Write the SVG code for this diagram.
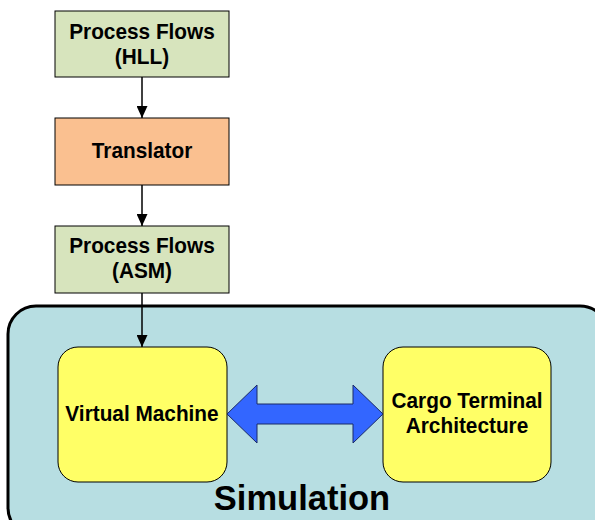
<svg xmlns="http://www.w3.org/2000/svg" width="595" height="520" viewBox="0 0 595 520">
  <style>
    .lbl { font-family: "Liberation Sans", Arial, sans-serif; font-weight: bold; font-size: 20.8px; fill: #000; text-anchor: middle; }
    .box { stroke: #000; stroke-width: 1; }
    .flow { fill: #D7E4BD; }
    .xlate { fill: #FAC090; }
    .inner { fill: #FFFF66; stroke: #000; stroke-width: 1; }
    .wire { stroke: #000; stroke-width: 1.5; fill: none; }
  </style>
  <defs>
    <marker id="head" viewBox="0 0 12 11" refX="12" refY="5.5" markerWidth="12" markerHeight="11" markerUnits="userSpaceOnUse" orient="auto">
      <path d="M0,0 L12,5.5 L0,11 Z" fill="#000"/>
    </marker>
  </defs>

  <!-- simulation container -->
  <g id="simulation">
    <rect x="8" y="306" width="600" height="230" rx="28" ry="28" fill="#B7DEE2" stroke="#000" stroke-width="3"/>
    <text x="302" y="510" font-family="'Liberation Sans', Arial, sans-serif" font-weight="bold" font-size="34.5" text-anchor="middle">Simulation</text>
  </g>

  <g id="hll">
    <rect class="box flow" x="55" y="11" width="174" height="66"/>
    <text class="lbl" transform="translate(142,39) scale(1,1.06)">Process Flows</text>
    <text class="lbl" transform="translate(142,64) scale(1,1.06)">(HLL)</text>
  </g>

  <g id="translator">
    <rect class="box xlate" x="55" y="118" width="174" height="67"/>
    <text class="lbl" transform="translate(142,158) scale(1,1.06)">Translator</text>
  </g>

  <g id="asm">
    <rect class="box flow" x="55" y="226" width="174" height="67"/>
    <text class="lbl" transform="translate(142,253) scale(1,1.06)">Process Flows</text>
    <text class="lbl" transform="translate(142,278) scale(1,1.06)">(ASM)</text>
  </g>

  <g id="vm">
    <rect class="inner" x="58" y="347" width="169" height="135" rx="20" ry="20"/>
    <text class="lbl" transform="translate(142,421) scale(1,1.06)">Virtual Machine</text>
  </g>

  <g id="cargo">
    <rect class="inner" x="383" y="347" width="168" height="135" rx="20" ry="20"/>
    <text class="lbl" transform="translate(467,408) scale(1,1.06)">Cargo Terminal</text>
    <text class="lbl" transform="translate(467,433) scale(1,1.06)">Architecture</text>
  </g>

  <g id="connectors">
    <line class="wire" x1="142" y1="77" x2="142" y2="118" marker-end="url(#head)"/>
    <line class="wire" x1="142" y1="185" x2="142" y2="226" marker-end="url(#head)"/>
    <line class="wire" x1="142" y1="293" x2="142" y2="347" marker-end="url(#head)"/>
    <path d="M227,414 L257,385 L257,404 L353,404 L353,385 L383,414 L353,443 L353,424 L257,424 L257,443 Z" fill="#3366FF" stroke="#1A2A66" stroke-width="1"/>
  </g>
</svg>
